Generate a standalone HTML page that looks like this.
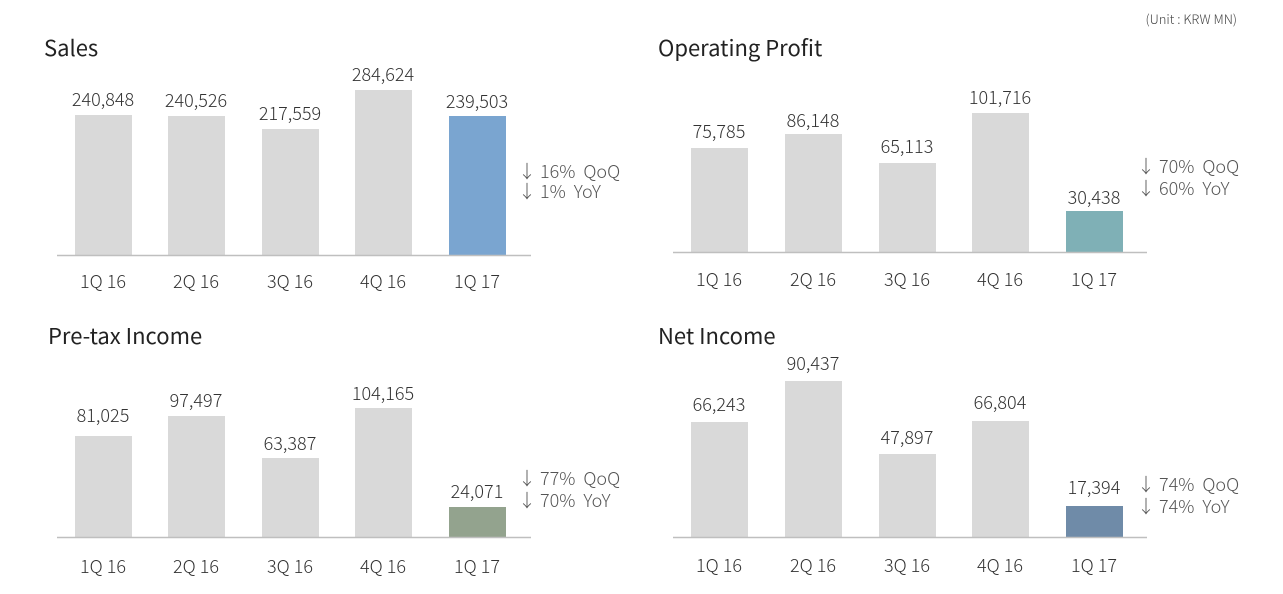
<!DOCTYPE html>
<html><head><meta charset="utf-8"><style>
html,body{margin:0;padding:0;background:#fff;}
svg{display:block;font-family:"Noto Sans CJK KR","Liberation Sans",sans-serif;}
.v{font-size:18px;fill:#333;text-anchor:middle;font-weight:300;}
.c{font-size:18px;fill:#333;text-anchor:middle;font-weight:300;}
.t{font-size:22px;fill:#222;font-weight:400;}
.q{font-size:18px;fill:#555;font-weight:300;white-space:pre;}
</style></head><body>
<svg width="1283" height="594" viewBox="0 0 1283 594">
<text x="1237" y="24" font-size="13" fill="#444" text-anchor="end" font-weight="300">(Unit : KRW MN)</text>

<!-- Sales -->
<text class="t" x="44" y="56">Sales</text>
<g fill="#d9d9d9">
<rect x="75" y="115" width="57" height="140"/><rect x="168" y="116" width="57" height="139"/>
<rect x="262" y="129" width="57" height="126"/><rect x="355" y="90" width="57" height="165"/>
</g><rect x="449" y="116" width="57" height="139" fill="#7aa5d0"/>
<line x1="57" y1="255.5" x2="531" y2="255.5" stroke="#bfbfbf" stroke-width="1.5"/>
<g class="v"><text x="103" y="106">240,848</text><text x="196" y="107">240,526</text><text x="290" y="120">217,559</text><text x="383" y="81">284,624</text><text x="477" y="108">239,503</text></g>
<g class="c"><text x="103" y="288">1Q 16</text><text x="196" y="288">2Q 16</text><text x="290" y="288">3Q 16</text><text x="383" y="288">4Q 16</text><text x="477" y="288">1Q 17</text></g>
<text class="q" x="518" y="178">↓ 16%  QoQ</text><text class="q" x="518" y="198">↓ 1%  YoY</text>

<!-- Operating Profit -->
<text class="t" x="658" y="56">Operating Profit</text>
<g fill="#d9d9d9">
<rect x="691" y="148" width="57" height="104"/><rect x="785" y="134" width="57" height="118"/>
<rect x="879" y="163" width="57" height="89"/><rect x="972" y="113" width="57" height="139"/>
</g><rect x="1066" y="211" width="57" height="41" fill="#7fb0b6"/>
<line x1="673" y1="252.5" x2="1147" y2="252.5" stroke="#bfbfbf" stroke-width="1.5"/>
<g class="v"><text x="719" y="138">75,785</text><text x="813" y="127">86,148</text><text x="907" y="153">65,113</text><text x="1000" y="104">101,716</text><text x="1094" y="204">30,438</text></g>
<g class="c"><text x="719" y="286">1Q 16</text><text x="813" y="286">2Q 16</text><text x="907" y="286">3Q 16</text><text x="1000" y="286">4Q 16</text><text x="1094" y="286">1Q 17</text></g>
<text class="q" x="1137" y="173">↓ 70%  QoQ</text><text class="q" x="1137" y="195">↓ 60%  YoY</text>

<!-- Pre-tax Income -->
<text class="t" x="48" y="344">Pre-tax Income</text>
<g fill="#d9d9d9">
<rect x="75" y="436" width="57" height="101"/><rect x="168" y="416" width="57" height="121"/>
<rect x="262" y="458" width="57" height="79"/><rect x="355" y="408" width="57" height="129"/>
</g><rect x="449" y="507" width="57" height="30" fill="#93a38e"/>
<line x1="57" y1="537.5" x2="531" y2="537.5" stroke="#bfbfbf" stroke-width="1.5"/>
<g class="v"><text x="103" y="422">81,025</text><text x="196" y="407">97,497</text><text x="290" y="450">63,387</text><text x="383" y="400">104,165</text><text x="477" y="498">24,071</text></g>
<g class="c"><text x="103" y="573">1Q 16</text><text x="196" y="573">2Q 16</text><text x="290" y="573">3Q 16</text><text x="383" y="573">4Q 16</text><text x="477" y="573">1Q 17</text></g>
<text class="q" x="518" y="485">↓ 77%  QoQ</text><text class="q" x="518" y="507">↓ 70%  YoY</text>

<!-- Net Income -->
<text class="t" x="658" y="344">Net Income</text>
<g fill="#d9d9d9">
<rect x="691" y="422" width="57" height="115"/><rect x="785" y="381" width="57" height="156"/>
<rect x="879" y="454" width="57" height="83"/><rect x="972" y="421" width="57" height="116"/>
</g><rect x="1066" y="506" width="57" height="31" fill="#6f8ba8"/>
<line x1="673" y1="537.5" x2="1147" y2="537.5" stroke="#bfbfbf" stroke-width="1.5"/>
<g class="v"><text x="719" y="411">66,243</text><text x="813" y="370">90,437</text><text x="907" y="444">47,897</text><text x="1000" y="409">66,804</text><text x="1094" y="494">17,394</text></g>
<g class="c"><text x="719" y="572">1Q 16</text><text x="813" y="572">2Q 16</text><text x="907" y="572">3Q 16</text><text x="1000" y="572">4Q 16</text><text x="1094" y="572">1Q 17</text></g>
<text class="q" x="1137" y="491">↓ 74%  QoQ</text><text class="q" x="1137" y="513">↓ 74%  YoY</text>
</svg>
</body></html>
